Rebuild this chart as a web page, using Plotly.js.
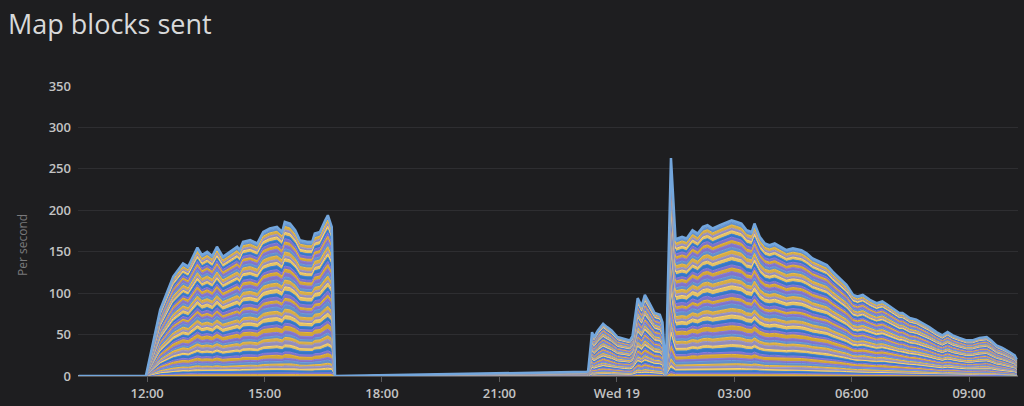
<!DOCTYPE html>
<html>
<head>
<meta charset="utf-8">
<script src="https://cdn.plot.ly/plotly-3.0.1.min.js"></script>
<style>
  html, body { margin: 0; padding: 0; background: #1e1e20; }
  #chart { width: 1024px; height: 406px; }
</style>
</head>
<body>
<div id="chart"></div>
<script>
// Sample times
const times = [
  '2019-06-18 10:15','2019-06-18 11:58','2019-06-18 12:20','2019-06-18 12:40','2019-06-18 12:55',
  '2019-06-18 13:03','2019-06-18 13:17','2019-06-18 13:24','2019-06-18 13:32','2019-06-18 13:40',
  '2019-06-18 13:47','2019-06-18 13:56','2019-06-18 14:07','2019-06-18 14:18','2019-06-18 14:22',
  '2019-06-18 14:27','2019-06-18 14:38','2019-06-18 14:49','2019-06-18 14:58','2019-06-18 15:08',
  '2019-06-18 15:19','2019-06-18 15:27','2019-06-18 15:31','2019-06-18 15:39','2019-06-18 15:47',
  '2019-06-18 15:54','2019-06-18 16:05','2019-06-18 16:13','2019-06-18 16:17','2019-06-18 16:25',
  '2019-06-18 16:33','2019-06-18 16:37','2019-06-18 16:43','2019-06-18 16:48','2019-06-18 23:14',
  '2019-06-18 23:16','2019-06-18 23:22','2019-06-18 23:25','2019-06-18 23:31','2019-06-18 23:39',
  '2019-06-18 23:45','2019-06-18 23:52','2019-06-19 00:01','2019-06-19 00:12','2019-06-19 00:20',
  '2019-06-19 00:24','2019-06-19 00:32','2019-06-19 00:38','2019-06-19 00:43','2019-06-19 00:50',
  '2019-06-19 00:58','2019-06-19 01:06','2019-06-19 01:10','2019-06-19 01:15','2019-06-19 01:23',
  '2019-06-19 01:30','2019-06-19 01:40','2019-06-19 01:47','2019-06-19 01:56','2019-06-19 02:04',
  '2019-06-19 02:12','2019-06-19 02:19','2019-06-19 02:27','2019-06-19 02:38','2019-06-19 02:48',
  '2019-06-19 02:56','2019-06-19 03:04','2019-06-19 03:11','2019-06-19 03:19','2019-06-19 03:27',
  '2019-06-19 03:31','2019-06-19 03:39','2019-06-19 03:47','2019-06-19 03:54','2019-06-19 04:02',
  '2019-06-19 04:10','2019-06-19 04:20','2019-06-19 04:30','2019-06-19 04:43','2019-06-19 04:51',
  '2019-06-19 05:00','2019-06-19 05:11','2019-06-19 05:22','2019-06-19 05:31','2019-06-19 05:42',
  '2019-06-19 05:52','2019-06-19 06:02','2019-06-19 06:09','2019-06-19 06:17','2019-06-19 06:28',
  '2019-06-19 06:38','2019-06-19 06:47','2019-06-19 06:55','2019-06-19 07:06','2019-06-19 07:13',
  '2019-06-19 07:18','2019-06-19 07:29','2019-06-19 07:39','2019-06-19 07:49','2019-06-19 07:59',
  '2019-06-19 08:10','2019-06-19 08:19','2019-06-19 08:27','2019-06-19 08:35','2019-06-19 08:45',
  '2019-06-19 08:56','2019-06-19 09:05','2019-06-19 09:16','2019-06-19 09:27','2019-06-19 09:34',
  '2019-06-19 09:42','2019-06-19 09:51','2019-06-19 10:02','2019-06-19 10:10','2019-06-19 10:13'
];

// Stacked total (per second) read from the top envelope
const totalPerSecond = [
  0,0,80,120,136,
  132,155,146,150,145,
  156,144,150,156,152,
  162,164,160,174,178,
  180,174,186,184,176,
  164,162,162,172,174,
  188,194,180,0,5,
  6,53,47,55,63,
  59,55,47,45,43,
  48,94,84,98,88,
  76,74,65,2,263,
  165,168,166,176,172,
  180,182,178,182,185,
  188,186,184,176,174,
  184,168,160,158,160,
  156,152,154,152,148,
  142,138,134,126,118,
  110,98,96,98,92,
  88,90,86,80,76,
  76,70,68,64,59,
  53,49,53,49,46,
  43,43,46,47,43,
  37,34,29,25,20
];

// Relative share of each stacked series (bottom to top)
const seriesShares = [
  0.45,0.55,0.70,0.60,0.80,0.65,0.95,0.75,
  1.10,0.85,1.20,0.90,1.30,1.00,0.85,1.15,
  1.40,0.95,1.05,1.25,0.90,1.10,1.35,1.00,
  0.95,1.20,1.05,1.30,0.90,1.15,1.00,1.25,
  1.10,0.95,1.20,1.05,0.90,1.15,1.00,1.10,
  0.95,1.05,0.90,1.00,0.85,0.95,0.80,0.60
];

const palette = ['#eab839','#8a7ee0','#3a84dc','#ffd86e','#a49dd0','#f0c04a','#6d9fe0','#8f80e0'];
const topColor = '#73a6dc';

const shareSum = seriesShares.reduce((a, b) => a + b, 0);
const traces = seriesShares.map((s, i) => {
  const isTop = i === seriesShares.length - 1;
  const c = isTop ? topColor : palette[i % palette.length];
  return {
    type: 'scatter',
    mode: 'lines',
    x: times,
    y: totalPerSecond.map(v => v * s / shareSum),
    stackgroup: 'one',
    line: { color: c, width: isTop ? 2.5 : 1, shape: 'linear' },
    fillcolor: isTop ? 'rgba(115,166,220,0.85)' : c + 'e0',
    hoverinfo: 'skip',
    showlegend: false
  };
});

const tickVals = ['2019-06-18 12:00','2019-06-18 15:00','2019-06-18 18:00','2019-06-18 21:00',
                  '2019-06-19 00:00','2019-06-19 03:00','2019-06-19 06:00','2019-06-19 09:00'];
const tickText = ['12:00','15:00','18:00','21:00','Wed 19','03:00','06:00','09:00'];
const yTicks = [0,50,100,150,200,250,300,350];

const layout = {
  width: 1024, height: 406,
  paper_bgcolor: '#1e1e20',
  plot_bgcolor: '#1e1e20',
  margin: { l: 78, r: 6, t: 86, b: 30 },
  font: { family: 'Open Sans, sans-serif', color: '#c8c8c8' },
  title: {
    text: 'Map blocks sent',
    x: 8 / 1024, xref: 'container', xanchor: 'left',
    y: 1 - 25 / 406, yref: 'container', yanchor: 'middle',
    font: { size: 27, color: '#d8d9da', family: 'Open Sans, sans-serif' }
  },
  xaxis: {
    type: 'date',
    range: ['2019-06-18 10:14', '2019-06-19 10:15'],
    tickvals: tickVals, ticktext: tickText,
    showgrid: false, zeroline: false, showline: false,
    ticks: 'outside', ticklen: 5, tickcolor: '#5a5a5c',
    tickfont: { size: 13, color: '#c4c4c4', weight: 600 },
    fixedrange: true
  },
  yaxis: {
    range: [0, 350],
    tickvals: yTicks,
    showgrid: true, gridcolor: '#2e2e31', gridwidth: 1,
    zeroline: true, zerolinecolor: '#58585b', zerolinewidth: 2,
    showline: false, ticks: '',
    ticklabelstandoff: 6,
    tickfont: { size: 13, color: '#c4c4c4', weight: 600 },
    automargin: false,
    fixedrange: true
  },
  annotations: [{
    text: 'Per second',
    xref: 'paper', yref: 'paper',
    x: -56 / 940, y: (376 - 245) / 290,
    xanchor: 'center', yanchor: 'middle',
    textangle: -90, showarrow: false,
    font: { size: 12, color: '#7a7a7c', family: 'Open Sans, sans-serif' }
  }],
  showlegend: false
};

Plotly.newPlot('chart', traces, layout, { displayModeBar: false, staticPlot: true });
</script>
</body>
</html>
